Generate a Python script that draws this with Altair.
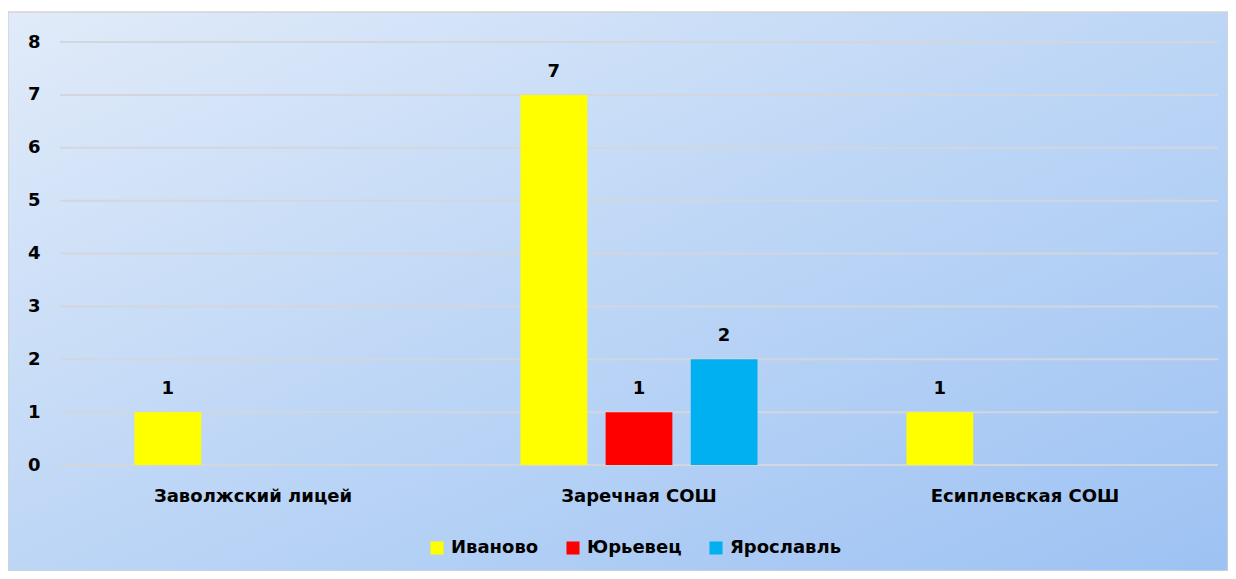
import altair as alt
import pandas as pd

schools = ["Заволжский лицей", "Заречная СОШ", "Есиплевская СОШ"]
cities = ["Иваново", "Юрьевец", "Ярославль"]
colors = ["#FFFF00", "#FF0000", "#00B0F0"]

school_col = ["Заволжский лицей", "Заречная СОШ", "Заречная СОШ", "Заречная СОШ", "Есиплевская СОШ"]
city_col = ["Иваново", "Иваново", "Юрьевец", "Ярославль", "Иваново"]
counts = [1, 7, 1, 2, 1]
y_ticks = [0, 1, 2, 3, 4, 5, 6, 7, 8]

df = pd.DataFrame({"school": school_col, "city": city_col, "count": counts})
ticks_df = pd.DataFrame({"count": y_ticks})

FONT = "DejaVu Sans"
FS = 18
W, H = 1158, 423
PAD = {"left": 52, "top": 34, "right": 10, "bottom": 106}

bg = alt.Chart(pd.DataFrame({"a": [0]})).mark_rect(
    fill=alt.LinearGradient(
        gradient="linear", x1=0, y1=0, x2=1, y2=1,
        stops=[alt.GradientStop(color="#e1ebf9", offset=0),
               alt.GradientStop(color="#bdd6f6", offset=0.5),
               alt.GradientStop(color="#9dc2f3", offset=1)],
    ),
    stroke="#d4d4d4", strokeWidth=1.5,
).encode(x=alt.value(-52), x2=alt.value(W + PAD["right"]), y=alt.value(-30), y2=alt.value(H + PAD["bottom"]))

yscale = alt.Scale(domain=[0, 8], nice=False)

grid = alt.Chart(ticks_df).mark_rule(color="#d3d6dc", strokeWidth=2).encode(
    y=alt.Y("count:Q", scale=yscale)
)

x = alt.X("school:N", sort=schools,
          scale=alt.Scale(domain=schools, paddingInner=0.386, paddingOuter=0.193),
          axis=alt.Axis(title=None, labelAngle=0, labelFont=FONT, labelFontSize=FS,
                        labelFontWeight="bold", labelColor="black", domain=False,
                        ticks=False, labelPadding=22, grid=False, zindex=2,
                        labelLimit=500))
xo = alt.XOffset("city:N", scale=alt.Scale(domain=cities, paddingInner=0.216, paddingOuter=0))
y = alt.Y("count:Q", scale=yscale,
          axis=alt.Axis(values=y_ticks, title=None, grid=False, domain=False, ticks=False,
                        labelPadding=20, labelFont=FONT, labelFontSize=FS,
                        labelFontWeight="bold", labelColor="black", format="d", zindex=2))

bars = alt.Chart(df).mark_bar().encode(
    x=x, xOffset=xo, y=y,
    color=alt.Color("city:N", scale=alt.Scale(domain=cities, range=colors),
                    legend=alt.Legend(title=None, orient="none", legendX=368, legendY=497,
                                      direction="horizontal", symbolType="square",
                                      symbolSize=170, symbolStrokeWidth=0,
                                      labelFont=FONT, labelFontSize=FS,
                                      labelFontWeight="bold", labelColor="black",
                                      columnPadding=25, labelOffset=5, labelLimit=300)),
)

labels = alt.Chart(df).mark_text(dy=-14, baseline="bottom", font=FONT, fontSize=FS,
                                 fontWeight="bold", color="black").encode(
    x=alt.X("school:N", sort=schools), xOffset=alt.XOffset("city:N"), y=alt.Y("count:Q"),
    text=alt.Text("count:Q"),
)

chart = alt.layer(bg, grid, bars, labels).properties(
    width=W, height=H, padding=PAD, autosize="none", background="white"
).configure_view(strokeWidth=0)

chart.save("out.html", embed_options={"renderer": "svg", "actions": False})
